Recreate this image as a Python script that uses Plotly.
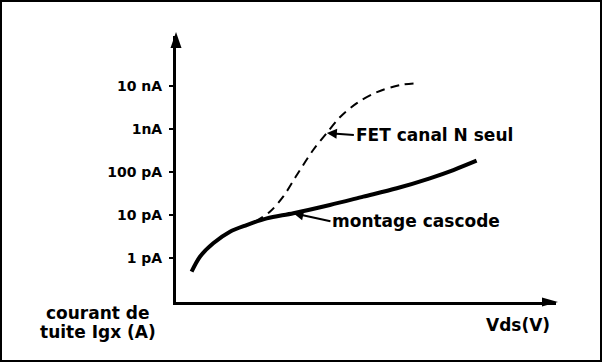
import math
import plotly.graph_objects as go

# ---------------- data ----------------
cascode_vds = [4.1, 6.3, 9.8, 14.2, 18.6, 23.9, 30.9, 40.5, 49.3, 58.1, 66.8, 73.0, 79.1]
cascode_i = [4.8e-13, 1.07e-12, 2.2e-12, 4.09e-12, 5.85e-12, 8.37e-12, 1.10e-11,
             1.71e-11, 2.67e-11, 4.18e-11, 7.14e-11, 1.11e-10, 1.83e-10]

fet_vds = [20.8, 24.7, 28.2, 31.8, 36.1, 39.7, 43.2, 47.6, 52.9, 58.9, 64.2]
fet_i = [7.0e-12, 1.19e-11, 2.67e-11, 8.5e-11, 3.25e-10, 8.1e-10, 1.9e-9,
         4.0e-9, 7.2e-9, 1.05e-8, 1.17e-8]

tick_vals = [1e-12, 1e-11, 1e-10, 1e-9, 1e-8]
tick_text = ["1 pA", "10 pA", "100 pA", "1nA", "10 nA"]

label_fet = "FET canal N seul"
label_cascode = "montage cascode"
y_title_lines = ["courant de", "tuite Igx (A)"]
x_title = "Vds(V)"

# ---------------- layout constants ----------------
W, H = 602, 362
L, R, T, B = 176, 46, 36, 60
PW, PH = W - L - R, H - T - B
x_range = [0, 100]
y_range_log = [-13.023, -6.837]
FONT = "DejaVu Sans"


def paper_x(px):
    return (px - L) / PW


def paper_y(py):
    return (H - B - py) / PH


fig = go.Figure()

fig.add_trace(go.Scatter(
    x=fet_vds, y=fet_i, mode="lines",
    line=dict(color="black", width=2, dash="9px,6px", shape="spline", smoothing=0.9),
    hoverinfo="skip", showlegend=False))

fig.add_trace(go.Scatter(
    x=cascode_vds, y=cascode_i, mode="lines",
    line=dict(color="black", width=4, shape="spline", smoothing=0.9),
    hoverinfo="skip", showlegend=False))

k_fet = 5
k_cas = 6
annotations = [
    dict(x=fet_vds[k_fet], y=math.log10(fet_i[k_fet]), xref="x", yref="y",
         text=label_fet, showarrow=True, ax=27, ay=2, xanchor="left",
         arrowhead=2, arrowsize=1.0, arrowwidth=2, arrowcolor="black", standoff=0,
         font=dict(family=FONT, size=17, color="black", weight="bold")),
    dict(x=cascode_vds[k_cas], y=math.log10(cascode_i[k_cas]), xref="x", yref="y",
         text=label_cascode, showarrow=True, ax=37, ay=8, xanchor="left",
         arrowhead=2, arrowsize=1.0, arrowwidth=2, arrowcolor="black", standoff=0,
         font=dict(family=FONT, size=17, color="black", weight="bold")),
    dict(x=paper_x(98), y=paper_y(313), xref="paper", yref="paper",
         text=y_title_lines[0], showarrow=False, xanchor="center", yanchor="middle",
         font=dict(family=FONT, size=17, color="black", weight="bold")),
    dict(x=paper_x(98), y=paper_y(332), xref="paper", yref="paper",
         text=y_title_lines[1], showarrow=False, xanchor="center", yanchor="middle",
         font=dict(family=FONT, size=17, color="black", weight="bold")),
    dict(x=paper_x(518), y=paper_y(325), xref="paper", yref="paper",
         text=x_title, showarrow=False, xanchor="center", yanchor="middle",
         font=dict(family=FONT, size=17, color="black", weight="bold")),
]

shapes = [
    # frame around the picture
    dict(type="rect", xref="paper", yref="paper",
         x0=paper_x(1), x1=paper_x(601), y0=paper_y(361), y1=paper_y(1),
         line=dict(color="black", width=2), fillcolor="rgba(0,0,0,0)"),
    # arrow head of the y axis
    dict(type="path", xref="paper", yref="paper", xsizemode="pixel", ysizemode="pixel",
         xanchor=0, yanchor=1, path="M -5.5 -12 L 0 4 L 5.5 -12 Z",
         fillcolor="black", line=dict(width=0)),
    # arrow head of the x axis
    dict(type="path", xref="paper", yref="paper", xsizemode="pixel", ysizemode="pixel",
         xanchor=1, yanchor=0, path="M -14 -4.5 L 2 0 L -14 4.5 Z",
         fillcolor="black", line=dict(width=0)),
]

fig.update_layout(
    width=W, height=H,
    margin=dict(l=L, r=R, t=T, b=B, pad=0),
    paper_bgcolor="white", plot_bgcolor="white",
    showlegend=False,
    annotations=annotations,
    shapes=shapes,
    xaxis=dict(range=x_range, showgrid=False, zeroline=False, showticklabels=False,
               ticks="", showline=True, linewidth=3, linecolor="black", fixedrange=True),
    yaxis=dict(type="log", range=y_range_log, showgrid=False, zeroline=False,
               tickmode="array", tickvals=tick_vals, ticktext=tick_text,
               ticks="outside", ticklen=4, tickwidth=2, tickcolor="black",
               ticklabelstandoff=4,
               tickfont=dict(family=FONT, size=14, color="black", weight="bold"),
               showline=True, linewidth=3, linecolor="black", fixedrange=True),
)

fig.write_html("out.html", config={"displayModeBar": False})
